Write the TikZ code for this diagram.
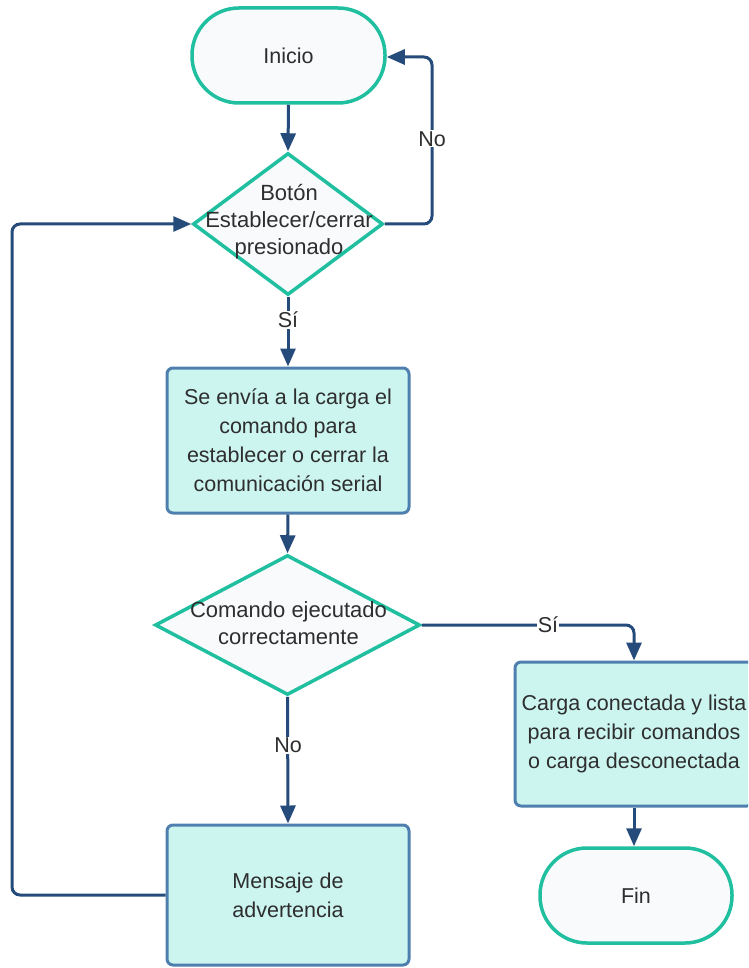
\documentclass[tikz,border=0pt]{standalone}
\usepackage{fontspec}
\setmainfont{Liberation Sans}
\usetikzlibrary{shapes.geometric,arrows.meta}
\definecolor{teal1}{HTML}{1FBF9F}
\definecolor{navy1}{HTML}{254B7B}
\definecolor{pborder}{HTML}{4F7FAE}
\definecolor{pfill}{HTML}{CCF5F0}
\definecolor{tfill}{HTML}{F8FAFC}
\definecolor{txtc}{HTML}{2E2E2E}
\tikzset{
  term/.style={draw=teal1, line width=3.5pt, fill=tfill, rounded corners=47pt, minimum width=193pt, minimum height=95pt, inner sep=0pt, text=txtc, font=\fontsize{21.5}{28}\selectfont},
  dec/.style={diamond, draw=teal1, line width=3.5pt, fill=tfill, inner sep=0pt},
  proc/.style={draw=pborder, line width=3pt, fill=pfill, rounded corners=6pt, inner sep=0pt, align=center, text=txtc, font=\fontsize{21.5}{29}\selectfont},
  txt/.style={align=center, text=txtc, font=\fontsize{22}{27}\selectfont, inner sep=0pt},
  conn/.style={draw=navy1, line width=3pt, rounded corners=8pt, -{Triangle[length=18pt,width=15pt]}},
  lbl/.style={fill=white, text=txtc, font=\fontsize{21.5}{26}\selectfont, inner sep=1pt}
}
\begin{document}
\begin{tikzpicture}[x=1pt,y=-1pt]
\useasboundingbox (0,0) rectangle (748,968);
\clip (0,0) rectangle (748,968);
\node[term] (ini) at (288.5,55.5) {Inicio};
\node[dec, minimum width=190pt, minimum height=142pt] (d1) at (288,224) {};
\node[txt] (d1t) at (289,222) {Botón\\Establecer/cerrar\\presionado};
\node[proc, minimum width=242pt, minimum height=145pt] (p1) at (288,440.5) {Se envía a la carga el\\comando para\\establecer o cerrar la\\comunicación serial};
\node[dec, minimum width=265pt, minimum height=140pt] (d2) at (287.5,625) {};
\node[txt] (d2t) at (288.5,623) {Comando ejecutado\\correctamente};
\node[proc, minimum width=238pt, minimum height=144pt] (p2) at (634,734) {Carga conectada y lista\\para recibir comandos\\o carga desconectada};
\node[term, minimum width=192pt] (fin) at (636,895.5) {Fin};
\node[proc, minimum width=242pt, minimum height=140pt] (p3) at (288,895) {Mensaje de\\advertencia};
\coordinate (c1) at (432,224);
\coordinate (c2) at (432,57);
\coordinate (c3) at (634,625);
\coordinate (c4) at (12,895);
\coordinate (c5) at (12,224);
\draw[conn] (ini.south) -- (d1.north);
\draw[conn] (d1.east) -- (c1) -- (c2) -- (ini.east |- c2);
\node[lbl] (no1) at (432,139) {No};
\draw[conn] (d1.south) -- (p1.north);
\node[lbl] (si1) at (288,320) {Sí};
\draw[conn] (p1.south) -- (d2.north);
\draw[conn] (d2.east) -- (c3) -- (p2.north);
\node[lbl] (si2) at (548,625) {Sí};
\draw[conn] (d2.south) -- (p3.north);
\node[lbl] (no2) at (288,745) {No};
\draw[conn] (p2.south) -- (fin.north -| p2.south);
\draw[conn] (p3.west) -- (c4) -- (c5) -- (d1.west);
\end{tikzpicture}
\end{document}
